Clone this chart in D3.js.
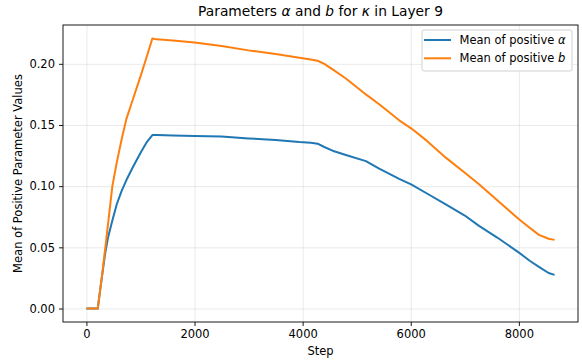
<!DOCTYPE html>
<html>
<head>
<meta charset="utf-8">
<script src="https://cdn.jsdelivr.net/npm/d3@7"></script>
<style>
  body { margin: 0; background: #fff; }
  text { font-family: "DejaVu Sans", sans-serif; }
</style>
</head>
<body>
<div class="canvas"></div>
<script>
// data (training step -> mean of positive values)
const steps = [0, 210, 260, 300, 350, 400, 480, 560, 650, 740, 830, 920, 1010, 1110, 1220,
  1300, 1600, 2000, 2500, 3000, 3500, 3940, 4150, 4277, 4400, 4554, 4800, 5170, 5416,
  5786, 6007, 6300, 6648, 7000, 7263, 7600, 8002, 8200, 8371, 8550, 8661];
const alphaMean = [0, 0, 0.017, 0.03, 0.046, 0.058, 0.072, 0.085, 0.096, 0.105, 0.113, 0.1205, 0.128, 0.1355, 0.1418,
  0.1418, 0.1415, 0.141, 0.1405, 0.139, 0.1378, 0.136, 0.1355, 0.1347, 0.132, 0.129, 0.1255, 0.1205, 0.1143,
  0.106, 0.1015, 0.094, 0.0852, 0.076, 0.0675, 0.058, 0.0457, 0.039, 0.034, 0.029, 0.0275];
const bMean = [0, 0, 0.017, 0.031, 0.05, 0.069, 0.10, 0.119, 0.138, 0.155, 0.167, 0.179, 0.191, 0.205, 0.2207,
  0.220, 0.219, 0.2175, 0.2145, 0.211, 0.208, 0.205, 0.2035, 0.2025, 0.200, 0.1955, 0.188, 0.175, 0.1669,
  0.1538, 0.1473, 0.137, 0.1233, 0.111, 0.1015, 0.0885, 0.073, 0.066, 0.0602, 0.057, 0.0561];
const xTicks = [0, 2000, 4000, 6000, 8000];
const yTicks = [0, 0.05, 0.10, 0.15, 0.20];

const series = [
  { name: 'alpha', values: alphaMean, color: '#1f77b4' },
  { name: 'b', values: bMean, color: '#ff7f0e' }
];

// svg + margins
const width = 582, height = 363;
const margin = {top: 25, right: 4, bottom: 41, left: 63};
const graphWidth = width - margin.left - margin.right;
const graphHeight = height - margin.top - margin.bottom;
const fs = 11.5; // tick / label font size

const svg = d3.select('.canvas')
  .append('svg')
    .attr('width', width)
    .attr('height', height);

const graph = svg.append('g')
  .attr('transform', `translate(${margin.left}, ${margin.top})`);

// scales (matplotlib style 5% padding)
const xMax = d3.max(steps);
const yMax = d3.max(bMean);
const x = d3.scaleLinear()
  .domain([-0.05 * xMax, xMax * 1.05])
  .range([0, graphWidth]);
const y = d3.scaleLinear()
  .domain([-0.05 * yMax, yMax * 1.05])
  .range([graphHeight, 0]);

// grid
graph.append('g')
  .attr('class', 'grid')
  .attr('transform', `translate(0, ${graphHeight})`)
  .call(d3.axisBottom(x).tickValues(xTicks).tickSize(-graphHeight).tickFormat(''));
graph.append('g')
  .attr('class', 'grid')
  .call(d3.axisLeft(y).tickValues(yTicks).tickSize(-graphWidth).tickFormat(''));
graph.selectAll('.grid .domain').remove();
graph.selectAll('.grid line')
  .attr('stroke', '#b0b0b0')
  .attr('stroke-opacity', 0.3)
  .attr('stroke-width', 0.9);

// lines
const line = d3.line()
  .x((d, i) => x(steps[i]))
  .y(d => y(d));

graph.selectAll('path.series')
  .data(series)
  .enter()
  .append('path')
    .attr('class', 'series')
    .attr('fill', 'none')
    .attr('stroke', d => d.color)
    .attr('stroke-width', 2)
    .attr('stroke-linejoin', 'round')
    .attr('d', d => line(d.values));

// frame
graph.append('rect')
  .attr('width', graphWidth)
  .attr('height', graphHeight)
  .attr('fill', 'none')
  .attr('stroke', '#000')
  .attr('stroke-width', 0.9);

// axes
const xAxisGroup = graph.append('g')
  .attr('transform', `translate(0, ${graphHeight})`)
  .call(d3.axisBottom(x).tickValues(xTicks).tickSize(4).tickPadding(4).tickFormat(d3.format('d')));
const yAxisGroup = graph.append('g')
  .call(d3.axisLeft(y).tickValues(yTicks).tickSize(4).tickPadding(4).tickFormat(d => d.toFixed(2)));

[xAxisGroup, yAxisGroup].forEach(g => {
  g.select('.domain').remove();
  g.selectAll('line').attr('stroke', '#000').attr('stroke-width', 0.9);
  g.selectAll('text').attr('font-size', fs).attr('fill', '#000')
    .style('font-family', '"DejaVu Sans", sans-serif');
});

// labels
svg.append('text')
  .attr('x', margin.left + graphWidth / 2)
  .attr('y', 355)
  .attr('text-anchor', 'middle')
  .attr('font-size', fs)
  .text('Step');

svg.append('text')
  .attr('transform', `translate(22, ${margin.top + graphHeight / 2}) rotate(-90)`)
  .attr('text-anchor', 'middle')
  .attr('font-size', fs)
  .text('Mean of Positive Parameter Values');

// title with italic math symbols
const title = svg.append('text')
  .attr('x', margin.left + graphWidth / 2)
  .attr('y', 16)
  .attr('text-anchor', 'middle')
  .attr('font-size', 13.8);
title.append('tspan').text('Parameters ');
title.append('tspan').attr('font-style', 'italic').text('α');
title.append('tspan').text(' and ');
title.append('tspan').attr('font-style', 'italic').text('b');
title.append('tspan').text(' for ');
title.append('tspan').attr('font-style', 'italic').text('κ');
title.append('tspan').text(' in Layer 9');

// legend
const legend = svg.append('g')
  .attr('transform', 'translate(422, 30)');
legend.append('rect')
  .attr('width', 150)
  .attr('height', 41)
  .attr('rx', 2)
  .attr('fill', '#fff')
  .attr('fill-opacity', 0.8)
  .attr('stroke', '#cccccc')
  .attr('stroke-width', 0.9);

const items = legend.selectAll('g.item')
  .data(series)
  .enter()
  .append('g')
    .attr('class', 'item')
    .attr('transform', (d, i) => `translate(0, ${10 + i * 18.3})`);
items.append('line')
  .attr('x1', 2).attr('x2', 29)
  .attr('stroke', d => d.color)
  .attr('stroke-width', 2);
const labels = items.append('text')
  .attr('x', 37.5)
  .attr('y', 4)
  .attr('font-size', fs);
labels.append('tspan').text('Mean of positive ');
labels.append('tspan').attr('font-style', 'italic').text(d => d.name === 'alpha' ? 'α' : 'b');
</script>
</body>
</html>
